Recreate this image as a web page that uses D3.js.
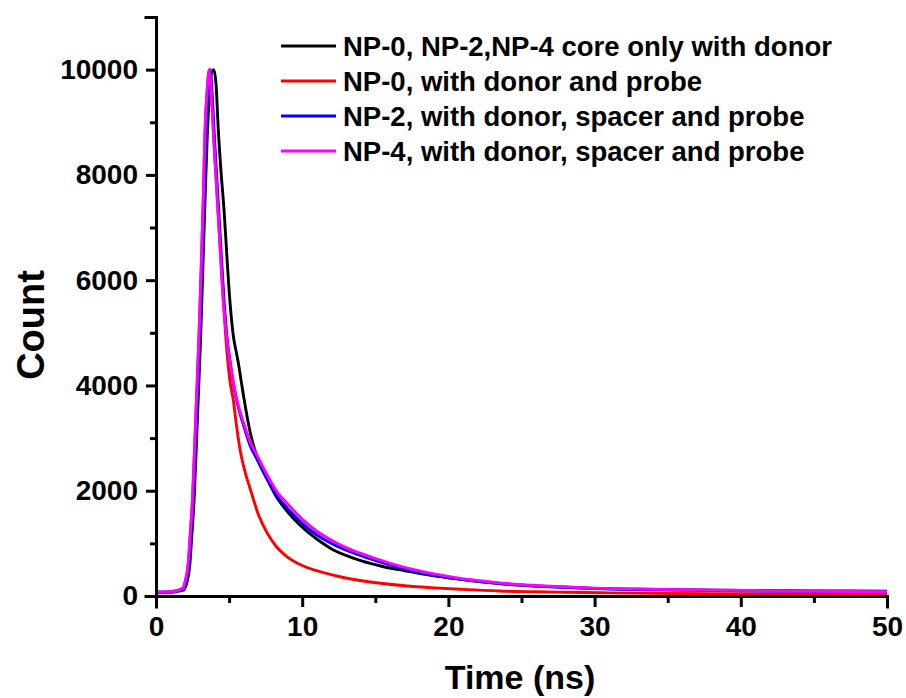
<!DOCTYPE html>
<html><head><meta charset="utf-8">
<script src="https://cdn.jsdelivr.net/npm/d3@7"></script>
<style>
body{margin:0;background:#fff}
svg{display:block}
text{font-family:"Liberation Sans",Arial,Helvetica,sans-serif;font-weight:bold;fill:#000}
</style>
</head><body>
<svg id="chart" width="906" height="698"></svg>
<script>
// ---- data ----
const seriesNames = [
  "NP-0, NP-2,NP-4 core only with donor",
  "NP-0, with donor and probe",
  "NP-2, with donor, spacer and probe",
  "NP-4, with donor, spacer and probe"
];
const seriesColors = ["#000000", "#ff0000", "#0000ff", "#ff00ff"];

const blackTime  = [0, 1.0, 1.95, 2.15, 2.3, 2.45, 2.6, 2.85, 3.05, 3.2, 3.35, 3.5, 3.65, 3.8, 3.95, 4.1, 4.26, 4.45, 4.65, 4.85, 5.0, 5.15, 5.3, 5.5, 5.65, 5.8, 6.0, 6.45, 6.9, 7.5, 8.2, 9.0, 9.8, 10.5, 11.3, 12.1, 13, 14, 15.5, 17, 18.5, 20, 22, 24, 26, 28, 30, 33, 36, 40, 45, 50];
const blackCount = [70, 75, 150, 300, 560, 1150, 1800, 3500, 4900, 6200, 7500, 8700, 9500, 9950, 10000, 9750, 8860, 8050, 7350, 6450, 5800, 5300, 4920, 4620, 4400, 4130, 3780, 3100, 2650, 2280, 1900, 1600, 1360, 1190, 1020, 880, 770, 670, 560, 480, 405, 345, 280, 225, 190, 165, 145, 128, 117, 106, 98, 92];

const redTime  = [0, 1.0, 1.85, 2.0, 2.2, 2.35, 2.5, 2.75, 2.95, 3.1, 3.25, 3.35, 3.5, 3.65, 3.8, 3.95, 4.15, 4.35, 4.6, 4.85, 5.05, 5.3, 5.5, 5.75, 6.1, 6.45, 7.0, 7.6, 8.2, 8.95, 10, 11, 12.5, 14.4, 17, 19, 21, 23.5, 26, 28, 31, 34, 38, 42, 46, 50];
const redCount = [60, 65, 150, 280, 600, 1200, 1850, 3600, 5000, 6300, 7700, 8800, 9600, 10000, 9500, 8700, 7750, 6800, 5630, 4650, 4100, 3700, 3250, 2780, 2350, 2030, 1550, 1200, 950, 750, 580, 480, 370, 275, 195, 155, 125, 95, 80, 70, 60, 52, 45, 40, 37, 35];

const blueTime  = [0, 1.0, 1.9, 2.05, 2.25, 2.4, 2.55, 2.8, 3.0, 3.15, 3.3, 3.4, 3.55, 3.7, 3.85, 4.0, 4.2, 4.4, 4.65, 4.9, 5.1, 5.3, 5.6, 6.0, 6.45, 6.9, 7.6, 8.3, 9.0, 10, 11, 12, 13, 14.4, 16, 17.5, 19, 20.5, 22, 23.5, 25, 27, 30, 34, 38, 42, 46, 50];
const blueCount = [70, 75, 110, 240, 560, 1150, 1800, 3500, 4900, 6200, 7600, 8600, 9550, 10000, 9500, 8700, 7750, 6800, 5630, 4800, 4400, 4020, 3620, 3230, 2850, 2600, 2220, 1890, 1660, 1380, 1160, 1000, 870, 730, 590, 480, 395, 330, 280, 240, 205, 175, 140, 120, 105, 95, 88, 82];

const pinkTime  = [0, 1.0, 1.85, 2.0, 2.2, 2.35, 2.5, 2.75, 2.95, 3.1, 3.25, 3.35, 3.5, 3.65, 3.8, 3.95, 4.15, 4.35, 4.6, 4.85, 5.05, 5.3, 5.6, 6.0, 6.45, 6.9, 7.6, 8.3, 9.0, 10, 11, 12, 13, 14.4, 16, 17.5, 19, 20.5, 22, 23.5, 25, 27, 30, 34, 38, 42, 46, 50];
const pinkCount = [75, 80, 150, 280, 600, 1200, 1850, 3600, 5000, 6300, 7700, 8800, 9600, 10000, 9500, 8700, 7750, 6800, 5630, 4870, 4450, 4050, 3650, 3280, 2920, 2680, 2300, 1970, 1750, 1460, 1230, 1060, 920, 770, 620, 510, 420, 350, 295, 250, 215, 185, 150, 128, 112, 100, 90, 82];

const xMajorTicks = [0, 10, 20, 30, 40, 50];
const xMinorTicks = [5, 15, 25, 35, 45];
const yMajorTicks = [0, 2000, 4000, 6000, 8000, 10000];
const yMinorTicks = [1000, 3000, 5000, 7000, 9000, 11000];
const xTitle = "Time (ns)";
const yTitle = "Count";

// ---- build ----
const series = [
  {name: seriesNames[0], color: seriesColors[0], t: blackTime, c: blackCount},
  {name: seriesNames[1], color: seriesColors[1], t: redTime,   c: redCount},
  {name: seriesNames[2], color: seriesColors[2], t: blueTime,  c: blueCount},
  {name: seriesNames[3], color: seriesColors[3], t: pinkTime,  c: pinkCount}
];

const svg = d3.select("#chart");
const x = d3.scaleLinear().domain([0, 50]).range([156, 887]);
const y = d3.scaleLinear().domain([0, 11000]).range([596, 17]);

const line = d3.line().x(d => x(d[0])).y(d => y(d[1])).curve(d3.curveMonotoneX);

const plot = svg.append("g");
series.forEach(s => {
  const pts = s.t.map((t, i) => [t, s.c[i]]);
  plot.append("path").datum(pts)
    .attr("d", line)
    .attr("fill", "none")
    .attr("stroke", s.color)
    .attr("stroke-width", 2.9)
    .attr("stroke-linejoin", "round");
});

// axes
const fs = 28;
const yAxis = svg.append("g").attr("transform", "translate(156,0)")
  .call(d3.axisLeft(y).tickValues(yMajorTicks).tickSize(10).tickPadding(8).tickFormat(d3.format("d")));
const yAxisMinor = svg.append("g").attr("transform", "translate(156,0)")
  .call(d3.axisLeft(y).tickValues(yMinorTicks).tickSize(6).tickFormat(""));
const xAxis = svg.append("g").attr("transform", "translate(0,596)")
  .call(d3.axisBottom(x).tickValues(xMajorTicks).tickSize(11).tickPadding(9).tickFormat(d3.format("d")));
const xAxisMinor = svg.append("g").attr("transform", "translate(0,596)")
  .call(d3.axisBottom(x).tickValues(xMinorTicks).tickSize(7).tickFormat(""));

[yAxis, yAxisMinor, xAxis, xAxisMinor].forEach(g => {
  g.select(".domain").attr("stroke", "#000").attr("stroke-width", 3).attr("stroke-linecap", "square");
  g.selectAll(".tick line").attr("stroke", "#000").attr("stroke-width", 3);
  g.selectAll(".tick text").attr("font-size", fs).attr("font-family", null).attr("fill", "#000");
});
yAxisMinor.select(".domain").remove();
xAxisMinor.select(".domain").remove();

// axis titles
svg.append("text").attr("x", 520).attr("y", 689).attr("text-anchor", "middle")
  .attr("font-size", 34).text(xTitle);
svg.append("text").attr("transform", "translate(44,325) rotate(-90)")
  .attr("text-anchor", "middle").attr("font-size", 38).text(yTitle);

// legend
const leg = svg.append("g");
series.forEach((s, i) => {
  const cy = 46 + i * 35;
  leg.append("line").attr("x1", 281).attr("x2", 336).attr("y1", cy).attr("y2", cy)
    .attr("stroke", s.color).attr("stroke-width", 2.8);
  leg.append("text").attr("x", 343).attr("y", cy + 9.5).attr("font-size", 27.5).text(s.name);
});
</script>
</body></html>
